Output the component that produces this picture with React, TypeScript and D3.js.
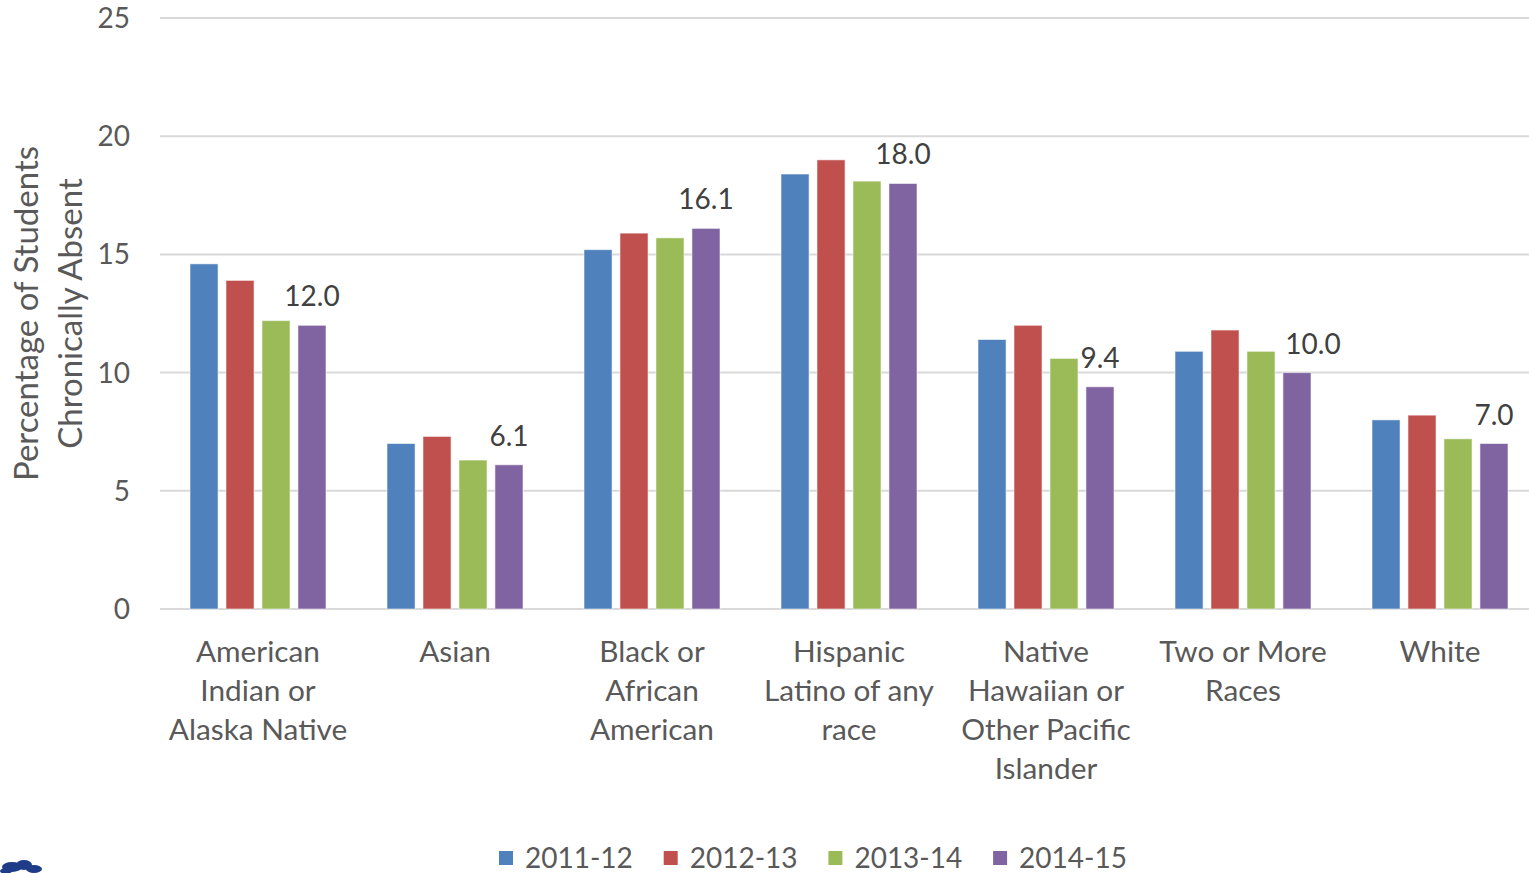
import React from "react";
import * as d3 from "d3";

// Chronic absence by race/ethnicity, four school years
const categories: string[][] = [
  ["American", "Indian or", "Alaska Native"],
  ["Asian"],
  ["Black or", "African", "American"],
  ["Hispanic", "Latino of any", "race"],
  ["Native", "Hawaiian or", "Other Pacific", "Islander"],
  ["Two or More", "Races"],
  ["White"],
];

const years = ["2011-12", "2012-13", "2013-14", "2014-15"];

const values2011 = [14.6, 7.0, 15.2, 18.4, 11.4, 10.9, 8.0];
const values2012 = [13.9, 7.3, 15.9, 19.0, 12.0, 11.8, 8.2];
const values2013 = [12.2, 6.3, 15.7, 18.1, 10.6, 10.9, 7.2];
const values2014 = [12.0, 6.1, 16.1, 18.0, 9.4, 10.0, 7.0];

const series = [values2011, values2012, values2013, values2014];
const colors = ["#4F81BD", "#C0504D", "#9BBB59", "#8064A2"];

const yTicks = [0, 5, 10, 15, 20, 25];

const W = 1529;
const H = 873;
const FONT = "Lato, 'Open Sans', sans-serif";
const TEXT = "#595959";

// horizontal nudge for value labels that would collide with a neighbouring bar
const labelNudge = [0, 0, 0, 0, 0, 16, 0];

export default function App() {
  const x = d3
    .scaleBand<number>()
    .domain(d3.range(categories.length))
    .range([159.5, 1538.5])
    .padding(0);
  const bw = x.bandwidth();
  const inner = d3
    .scaleBand<number>()
    .domain(d3.range(years.length))
    .range([bw / 2 - 68, bw / 2 + 68])
    .paddingInner(0.22)
    .paddingOuter(0);
  const y = d3.scaleLinear().domain([0, 25]).range([609, 18]);

  const lastIdx = years.length - 1;

  return (
    <svg
      width={W}
      height={H}
      viewBox={`0 0 ${W} ${H}`}
      style={{ position: "absolute", left: 0, top: 0, display: "block", background: "#fff" }}
      fontFamily={FONT}
    >
      <rect width={W} height={H} fill="#fff" />

      {/* gridlines */}
      {yTicks.map((t) => (
        <line
          key={"g" + t}
          x1={160}
          x2={W}
          y1={y(t)}
          y2={y(t)}
          stroke="#D9D9D9"
          strokeWidth={2}
        />
      ))}

      {/* y tick labels */}
      {yTicks.map((t) => (
        <text
          key={"t" + t}
          x={130}
          y={y(t)}
          dy="0.36em"
          textAnchor="end"
          fontSize={28}
          fill={TEXT}
        >
          {t}
        </text>
      ))}

      {/* y axis title */}
      <g transform={`translate(0, ${(y(0) + y(25)) / 2}) rotate(-90)`}>
        <text x={0} y={38} textAnchor="middle" fontSize={33} fill={TEXT}>
          Percentage of Students
        </text>
        <text x={0} y={82} textAnchor="middle" fontSize={33} fill={TEXT}>
          Chronically Absent
        </text>
      </g>

      {/* bars */}
      {categories.map((_, ci) => (
        <g key={"c" + ci} transform={`translate(${x(ci)},0)`}>
          {series.map((vals, si) => (
            <rect
              key={"b" + si}
              x={inner(si)}
              y={y(vals[ci])}
              width={inner.bandwidth()}
              height={y(0) - y(vals[ci])}
              fill={colors[si]}
              stroke="#ffffff"
              strokeOpacity={0.55}
              strokeWidth={1}
            />
          ))}
          <text
            x={(inner(lastIdx) as number) + inner.bandwidth() / 2 + labelNudge[ci]}
            y={y(series[lastIdx][ci]) - 19}
            textAnchor="middle"
            fontSize={28}
            fill="#404040"
          >
            {series[lastIdx][ci].toFixed(1)}
          </text>
        </g>
      ))}

      {/* category labels */}
      {categories.map((lines, ci) => (
        <text
          key={"l" + ci}
          x={(x(ci) as number) + bw / 2}
          y={662}
          textAnchor="middle"
          fontSize={29.8}
          fill={TEXT}
        >
          {lines.map((ln, li) => (
            <tspan key={li} x={(x(ci) as number) + bw / 2} y={662 + li * 39}>
              {ln}
            </tspan>
          ))}
        </text>
      ))}

      {/* legend */}
      {years.map((yr, i) => (
        <g key={"lg" + i} transform={`translate(${499 + i * 164.7}, 851)`}>
          <rect x={0} y={0} width={14} height={14} fill={colors[i]} />
          <text x={26} y={17} fontSize={28} fill={TEXT}>
            {yr}
          </text>
        </g>
      ))}

      {/* logo fragment at lower left */}
      <g fill="#1F3C88">
        <ellipse cx={12} cy={867} rx={10} ry={5} />
        <ellipse cx={24} cy={865} rx={8} ry={5} />
        <ellipse cx={34} cy={869} rx={8} ry={4} />
        <ellipse cx={6} cy={871} rx={6} ry={3} />
      </g>
    </svg>
  );
}
